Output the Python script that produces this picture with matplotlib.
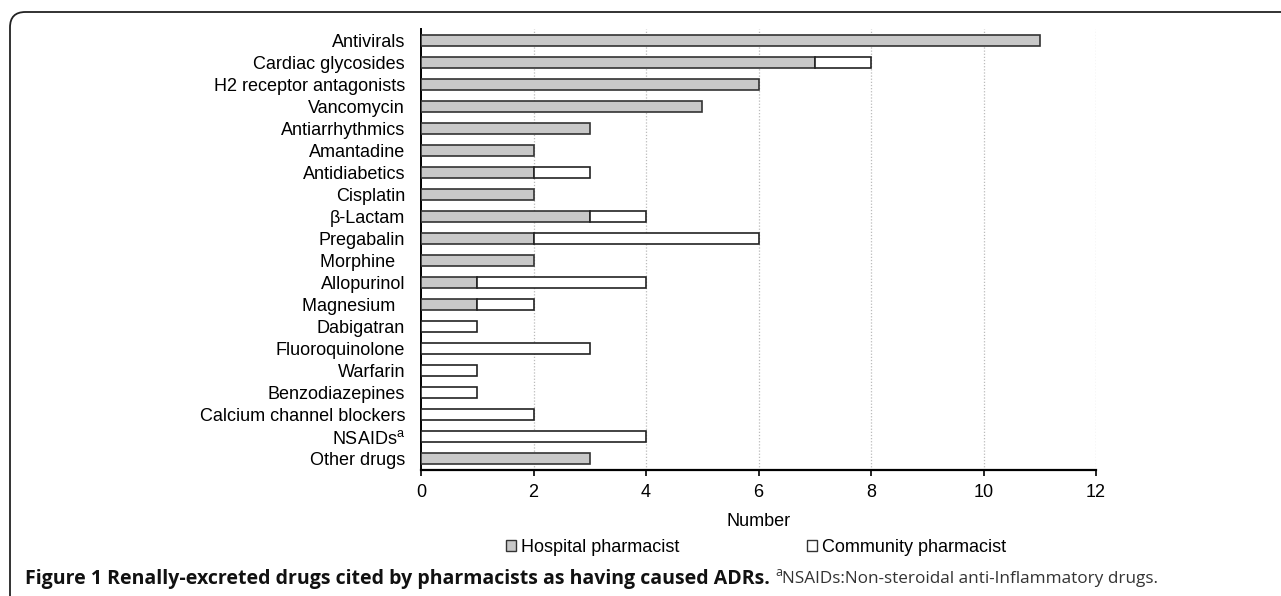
import matplotlib
matplotlib.use("Agg")
import matplotlib.pyplot as plt
from matplotlib.patches import FancyBboxPatch, Patch
import numpy as np

plt.rcParams['font.family'] = ['Liberation Sans', 'DejaVu Sans']
plt.rcParams['mathtext.fontset'] = 'custom'
plt.rcParams['mathtext.rm'] = 'Liberation Sans'

categories = ["Antivirals", "Cardiac glycosides", "H2 receptor antagonists", "Vancomycin",
              "Antiarrhythmics", "Amantadine", "Antidiabetics", "Cisplatin", "β-Lactam",
              "Pregabalin", "Morphine  ", "Allopurinol", "Magnesium  ", "Dabigatran",
              "Fluoroquinolone", "Warfarin", "Benzodiazepines", "Calcium channel blockers",
              "NSAIDs$^{\\mathrm{a}}$", "Other drugs"]
hospital = [11, 7, 6, 5, 3, 2, 2, 2, 3, 2, 2, 1, 1, 0, 0, 0, 0, 0, 0, 3]
community = [0, 1, 0, 0, 0, 0, 1, 0, 1, 4, 0, 3, 1, 1, 3, 1, 1, 2, 4, 0]
xticks = [0, 2, 4, 6, 8, 10, 12]

W, H = 1281, 596
fig = plt.figure(figsize=(W / 100, H / 100), dpi=100)
ax = fig.add_axes([421 / W, 1 - 470 / H, (1096 - 421) / W, (470 - 29) / H])

y = np.arange(len(categories))
h = np.array(hospital, dtype=float)
c = np.array(community, dtype=float)
hm = h > 0
cm = c > 0
ax.barh(y[hm], h[hm], height=0.5, color="#c8c8c8", edgecolor="#333333", linewidth=1.2, zorder=3)
ax.barh(y[cm], c[cm], left=h[cm], height=0.5, color="white", edgecolor="#222222", linewidth=1.2, zorder=3)

ax.set_ylim(len(categories) - 0.5, -0.5)
ax.set_xlim(0, 12)
ax.set_xticks(xticks)
ax.set_xticklabels([str(t) for t in xticks], fontsize=13)
ax.set_yticks(y)
ax.set_yticklabels(categories, fontsize=13)
ax.tick_params(axis='y', length=0, pad=11.5)
ax.tick_params(axis='x', length=4, width=1.2, direction='out', pad=6)
for t in xticks[1:]:
    ax.axvline(t, color="#bbbbbb", linestyle=(0, (1, 1.5)), linewidth=0.9, zorder=1)
for s in ['top', 'right']:
    ax.spines[s].set_visible(False)
ax.spines['left'].set_linewidth(1.4)
ax.spines['bottom'].set_linewidth(1.6)
ax.set_xlabel("Number", fontsize=13, labelpad=9)

handles = [Patch(facecolor="#c8c8c8", edgecolor="#333333", linewidth=1.0, label="Hospital pharmacist"),
           Patch(facecolor="white", edgecolor="#333333", linewidth=1.0, label="Community pharmacist")]
fig.legend(handles=handles, loc="center", bbox_to_anchor=(756 / W, 1 - 547 / H), ncol=2,
           frameon=False, fontsize=13, handlelength=0.55, handleheight=0.55, handletextpad=0.28,
           columnspacing=7.1, borderpad=0, borderaxespad=0)

# rounded frame
frame = FancyBboxPatch((10 / W, -0.2), 1.2, 1.2 - 12 / H,
                       boxstyle="round,pad=0,rounding_size=0.012",
                       transform=fig.transFigure, fill=False, edgecolor="#222222",
                       linewidth=1.3, mutation_aspect=W / H)
fig.patches.append(frame)

cap_font = ['Open Sans', 'DejaVu Sans']
t1 = fig.text(25 / W, 1 - 579 / H, "Figure 1 Renally-excreted drugs cited by pharmacists as having caused ADRs.",
              fontsize=14, fontweight='bold', family=cap_font, va='center', ha='left', color="#111111")
fig.canvas.draw()
bb = t1.get_window_extent()
x2 = bb.x1 / W + 5 / W
t2 = fig.text(x2, 1 - 573 / H, "a", fontsize=9, family=cap_font, va='center', ha='left', color="#333333")
fig.canvas.draw()
bb2 = t2.get_window_extent()
fig.text(bb2.x1 / W, 1 - 579 / H, "NSAIDs:Non-steroidal anti-Inflammatory drugs.", fontsize=12.3,
         family=cap_font, va='center', ha='left', color="#333333")

fig.savefig("out.png", dpi=100)
